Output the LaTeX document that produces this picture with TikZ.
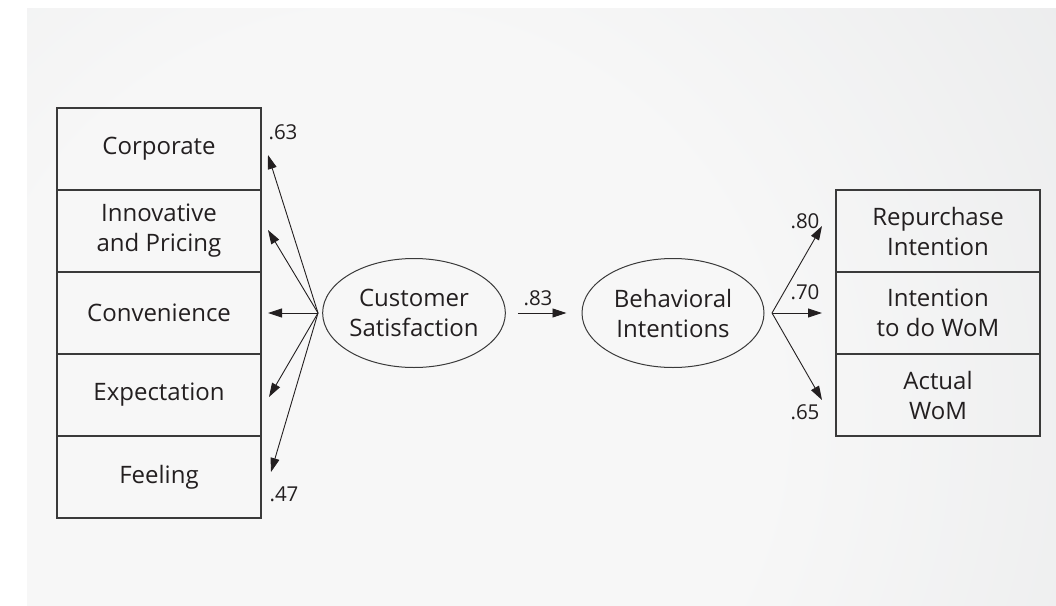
\documentclass[tikz,border=0pt]{standalone}
\usepackage{fontspec}
\setmainfont{Open Sans}
\usetikzlibrary{arrows.meta,shapes.geometric,calc}
\definecolor{ink}{HTML}{231F20}
\definecolor{linec}{HTML}{3A3A3A}
\definecolor{bgA}{HTML}{F7F7F7}
\definecolor{bgB}{HTML}{E9EAEB}
\definecolor{bgC}{HTML}{D3D4D6}
\pgfdeclareradialshading{bgshade}{\pgfpoint{0bp}{0bp}}{color(0bp)=(bgA); color(12bp)=(bgA); color(28bp)=(bgB); color(50bp)=(bgC)}
\tikzset{
  itembox/.style={draw=linec, line width=1.1pt, minimum width=204pt, minimum height=82pt, inner sep=0pt, align=center, font=\fontsize{24}{30}\selectfont, text=ink},
  latent/.style={ellipse, draw=linec, line width=1pt, minimum width=182pt, minimum height=109pt, inner sep=0pt, align=center, font=\fontsize{24}{30}\selectfont, text=ink},
  arr/.style={draw=ink, line width=0.9pt, -{Triangle[length=14pt,width=9pt]}},
  coef/.style={font=\fontsize{20.5}{24}\selectfont, text=ink, inner sep=0pt}
}
\begin{document}
\begin{tikzpicture}[x=1pt,y=-1pt]
\useasboundingbox (0,0) rectangle (1056,605);
\fill[white] (0,0) rectangle (1056,605);
\begin{scope}
\clip (27,8) rectangle (1056,605);
\shade[shading=bgshade] (377,417) circle (820);
\end{scope}
% left boxes
\node[itembox] (corp) at (159,149) {Corporate};
\node[itembox] (innov) at (159,231) {Innovative\\and Pricing};
\node[itembox] (conv) at (159,313) {Convenience};
\node[itembox] (expe) at (159,395) {Expectation};
\node[itembox] (feel) at (159,477) {Feeling};
% right boxes
\node[itembox] (rep) at (938,231) {Repurchase\\Intention};
\node[itembox] (itw) at (938,313) {Intention\\to do WoM};
\node[itembox] (act) at (938,395) {Actual\\WoM};
% latent
\node[latent] (cs) at (414,313) {Customer\\Satisfaction};
\node[latent] (bi) at (673,313) {Behavioral\\Intentions};
% sources and tips
\coordinate (csL) at (318,313);
\coordinate (biR) at (772,313);
\coordinate (t1) at (268,155);
\coordinate (t2) at (268,230);
\coordinate (t3) at (268,313);
\coordinate (t4) at (269,397);
\coordinate (t5) at (271,472);
\coordinate (r1) at (822,226);
\coordinate (r2) at (822,313);
\coordinate (r3) at (822,400);
\draw[arr] (csL) -- (t1);
\draw[arr] (csL) -- (t2);
\draw[arr] (csL) -- (t3);
\draw[arr] (csL) -- (t4);
\draw[arr] (csL) -- (t5);
\draw[arr] (biR) -- (r1);
\draw[arr] (biR) -- (r2);
\draw[arr] (biR) -- (r3);
\draw[arr, shorten <=12pt, shorten >=15pt] (cs.east) -- (bi.west);
% coefficients
\node[coef] (c63) at (283,132) {.63};
\node[coef] (c47) at (284,494) {.47};
\node[coef] (c83) at (538,298) {.83};
\node[coef] (c80) at (805,221) {.80};
\node[coef] (c70) at (805,292) {.70};
\node[coef] (c65) at (805,412) {.65};
\end{tikzpicture}
\end{document}
